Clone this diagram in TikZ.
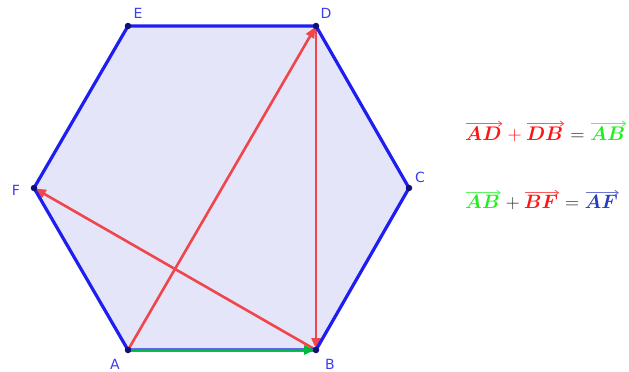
\documentclass[tikz,border=0pt]{standalone}
\usepackage{graphicx}
\usepackage{amsmath,bm}
\usepackage{fontspec}
\newfontfamily\labfont{DejaVu Sans}
\usetikzlibrary{arrows.meta}
\definecolor{hexfill}{RGB}{229,229,250}
\definecolor{hexedge}{RGB}{30,30,240}
\definecolor{vred}{RGB}{240,70,75}
\definecolor{vgreen}{RGB}{0,185,60}
\definecolor{labblue}{RGB}{60,60,240}
\definecolor{fred}{RGB}{255,20,20}
\definecolor{fgreen}{RGB}{30,240,30}
\definecolor{fblue}{RGB}{40,60,190}
\definecolor{fgray}{RGB}{40,40,40}
\newcommand\ovec[2]{\tikz[baseline=(v.base)]{\node[inner sep=0pt,outer sep=0pt,text=#1](v){$\bm{#2}$};\draw[draw=#1!70,line width=0.8pt,-{Straight Barb[length=3pt,width=4.5pt]}] ([yshift=2.6pt,xshift=1pt]v.north west) -- ([yshift=2.6pt,xshift=1pt]v.north east);}}
\tikzset{
  edge/.style={draw=hexedge, line width=3.2pt, line join=round},
  vec/.style={line width=2.6pt, -{Triangle[length=11pt,width=9pt]}, shorten >=1pt},
  redvec/.style={vec, draw=vred, fill=vred},
  greenvec/.style={vec, draw=vgreen, fill=vgreen},
  dot/.style={circle, fill=hexedge!50!black, inner sep=0pt, minimum size=6.5pt},
  lab/.style={text=labblue, font=\labfont\fontsize{14}{16}\selectfont, inner sep=0pt},
  formula/.style={font=\fontsize{17.28}{21}\selectfont, inner sep=0pt, anchor=west}
}
\begin{document}
\begin{tikzpicture}[x=1pt,y=-1pt]
\useasboundingbox (0,0) rectangle (629,372);
\coordinate (A) at (128,350);
\coordinate (B) at (316,350);
\coordinate (C) at (409,188);
\coordinate (D) at (316,26);
\coordinate (E) at (128,26);
\coordinate (F) at (34,188);
\fill[hexfill] (A) -- (B) -- (C) -- (D) -- (E) -- (F) -- cycle;
\draw[redvec] (A) -- (D);
\draw[redvec] (D) -- (B);
\draw[redvec] (B) -- (F);
\draw[edge] (A) -- (B) (B) -- (C) -- (D) -- (E) -- (F) -- (A);
\draw[greenvec] (A) -- (B);
\foreach \p in {A,B,C,D,E,F} \node[dot] (d\p) at (\p) {};
\node[lab] (lA) at (115,364) {A};
\node[lab] (lB) at (330,364) {B};
\node[lab] (lC) at (420,177) {C};
\node[lab] (lD) at (326,13) {D};
\node[lab] (lE) at (138,13) {E};
\node[lab] (lF) at (16,190) {F};
\node[formula] (f1) at (465,131) {\scalebox{1.14}{$\color{fred}\ovec{fred}{AD}+\ovec{fred}{DB}\color{fgray}=\ovec{fgreen}{AB}$}};
\node[formula] (f2) at (465,200) {\scalebox{1.12}{$\ovec{fgreen}{AB}\color{fgray}+\ovec{fred}{BF}=\ovec{fblue}{AF}$}};
\end{tikzpicture}
\end{document}
